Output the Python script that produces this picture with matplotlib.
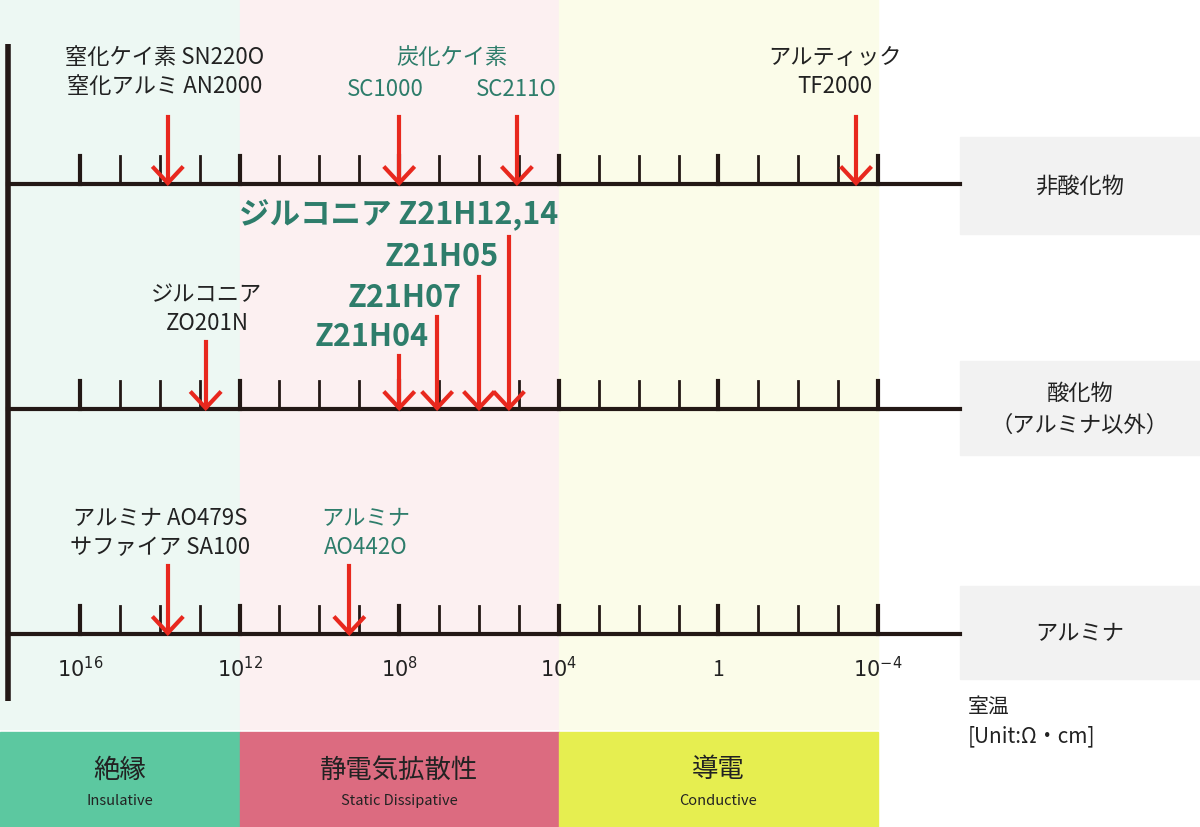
import matplotlib
matplotlib.use("Agg")
import matplotlib.pyplot as plt
from matplotlib.patches import Rectangle

plt.rcParams['font.family'] = ['Noto Sans CJK JP', 'DejaVu Sans']

TEAL = '#2e7d6b'
RED = '#e8281e'

# exponent of resistivity (log10 ohm*cm)
row_names = ['非酸化物', '酸化物\n（アルミナ以外）', 'アルミナ']
row_y = [185, 410, 635]
tick_exps = list(range(16, -5, -1))
tick_labels = {16: '$10^{16}$', 12: '$10^{12}$', 8: '$10^{8}$', 4: '$10^{4}$', 0: '1', -4: '$10^{-4}$'}

# (row, exponent, arrow top y)
nonoxide_exp = [13.8, 8.0, 5.05, -3.45]
oxide_exp = [12.85, 8.0, 7.05, 6.0, 5.25]
oxide_top = [343, 357, 318, 278, 238]
alumina_exp = [13.8, 9.25]

bands = [(18.0, 12, '#5cc8a0', '#edf8f3', '絶縁', 'Insulative'),
         (12, 4, '#dc6b80', '#fcf0f1', '静電気拡散性', 'Static Dissipative'),
         (4, -4, '#e6ee50', '#fbfce9', '導電', 'Conductive')]

fig = plt.figure(figsize=(12, 8.28), dpi=100)
ax = fig.add_axes([0, 0, 1, 1])
ppd = 39.9
ax.set_xlim(16 + 80 / ppd, 16 - 1120 / ppd)
ax.set_ylim(828, 0)
ax.axis('off')

def xd(px):
    return 16 - (px - 80) / ppd

for a, b, dark, light, jp, en in bands:
    ax.add_patch(Rectangle((a, 0), b - a, 730, color=light, zorder=0))
    ax.add_patch(Rectangle((a, 733), b - a, 95, color=dark, zorder=0))
    cx = (a + b) / 2
    ax.text(cx, 770, jp, ha='center', va='center', fontsize=19, color='#222')
    ax.text(cx, 801, en, ha='center', va='center', fontsize=10.5, color='#222')

# gray label boxes
for (y0, y1), name in zip([(138, 235), (362, 456), (587, 680)], row_names):
    ax.add_patch(Rectangle((xd(960), y0), xd(1200) - xd(960), y1 - y0, color='#f2f2f2', zorder=0))
    ax.text(xd(1080), (y0 + y1) / 2, name, ha='center', va='center', fontsize=16,
            color='#222', linespacing=1.5)

# vertical axis bar
ax.plot([xd(8), xd(8)], [45, 702], color='#231815', lw=4, solid_capstyle='butt')

for y in row_y:
    ax.plot([xd(8), xd(960)], [y, y], color='#231815', lw=3)
    for e in tick_exps:
        ax.plot([e, e], [y - 28, y], color='#231815', lw=3 if e % 4 == 0 else 2)

for e, lab in tick_labels.items():
    ax.text(e, 670, lab, ha='center', va='center', fontsize=15, color='#222')

def arrow(e, top, y):
    ax.plot([e, e], [top, y - 2], color=RED, lw=3, zorder=5)
    d = 14 / ppd
    ax.plot([e - d, e, e + d], [y - 16, y - 1, y - 16], color=RED, lw=3, zorder=5,
            solid_joinstyle='miter')

for e in nonoxide_exp:
    arrow(e, 118, row_y[0])
for e, t in zip(oxide_exp, oxide_top):
    arrow(e, t, row_y[1])
for e in alumina_exp:
    arrow(e, 567, row_y[2])

fs = 16
ax.text(xd(165), 72, '窒化ケイ素 SN220O\n窒化アルミ AN2000', ha='center', va='center', fontsize=fs, color='#222', linespacing=1.35)
ax.text(xd(452), 57, '炭化ケイ素', ha='center', va='center', fontsize=fs, color=TEAL)
ax.text(xd(385), 89, 'SC1000', ha='center', va='center', fontsize=fs, color=TEAL)
ax.text(xd(516), 89, 'SC211O', ha='center', va='center', fontsize=fs, color=TEAL)
ax.text(xd(835), 72, 'アルティック\nTF2000', ha='center', va='center', fontsize=fs, color='#222', linespacing=1.35)

ax.text(xd(207), 309, 'ジルコニア\nZO201N', ha='center', va='center', fontsize=fs, color='#222', linespacing=1.35)
bf = 22
ax.text(xd(558), 215, 'ジルコニア Z21H12,14', ha='right', va='center', fontsize=bf, color=TEAL, fontweight='bold')
ax.text(xd(499), 257, 'Z21H05', ha='right', va='center', fontsize=bf, color=TEAL, fontweight='bold')
ax.text(xd(462), 298, 'Z21H07', ha='right', va='center', fontsize=bf, color=TEAL, fontweight='bold')
ax.text(xd(429), 337, 'Z21H04', ha='right', va='center', fontsize=bf, color=TEAL, fontweight='bold')

ax.text(xd(160), 533, 'アルミナ AO479S\nサファイア SA100', ha='center', va='center', fontsize=fs, color='#222', linespacing=1.35)
ax.text(xd(366), 533, 'アルミナ\nAO442O', ha='center', va='center', fontsize=fs, color=TEAL, linespacing=1.35)

ax.text(xd(968), 722, '室温\n[Unit:Ω・cm]', ha='left', va='center', fontsize=15, color='#222', linespacing=1.45)

fig.savefig('out.png', dpi=100)
